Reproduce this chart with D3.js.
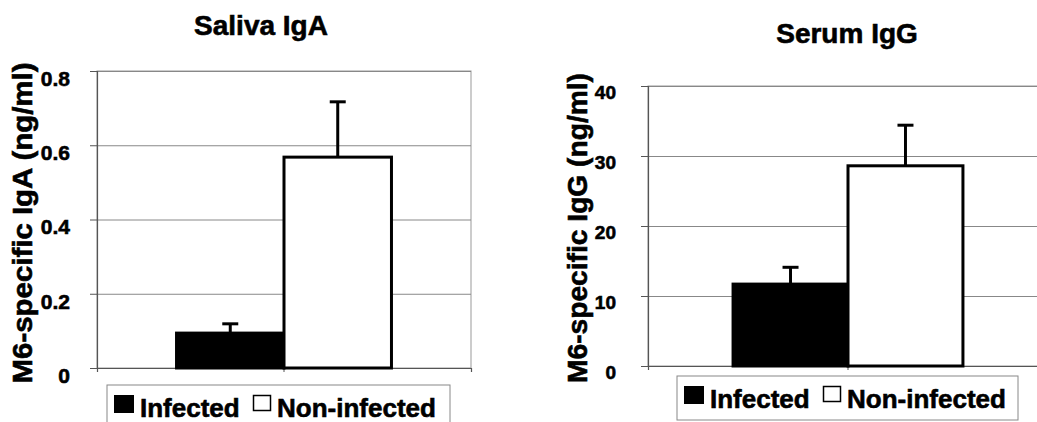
<!DOCTYPE html>
<html>
<head>
<meta charset="utf-8">
<script src="https://cdn.jsdelivr.net/npm/d3@7"></script>
<style>
  body { margin: 0; background: #fff; }
  text { font-family: "Liberation Sans", Arial, sans-serif; font-weight: bold; fill: #000; stroke: #000; stroke-width: 0.6px; }
</style>
</head>
<body>
<script>
var width = 1037,
    height = 422;

// data
var groups = ["Infected", "Non-infected"];
var salivaMeans = [0.094, 0.568];
var salivaErrors = [0.025, 0.149];
var salivaTicks = [0, 0.2, 0.4, 0.6, 0.8];
var serumMeans = [11.7, 28.6];
var serumErrors = [2.4, 5.8];
var serumTicks = [0, 10, 20, 30, 40];

var fills = ["#000", "#fff"];

var svg = d3.select("body").append("svg")
    .attr("width", width)
    .attr("height", height);

function drawChart(opt) {
  var g = svg.append("g");
  var w = opt.right - opt.left,
      h = opt.bottom - opt.top;

  var y = d3.scaleLinear().domain([0, opt.ticks[opt.ticks.length - 1]]).range([opt.bottom, opt.top]);
  var x0 = d3.scaleBand().domain(["1"]).range([opt.left, opt.right]).paddingInner(0).paddingOuter(0.37);
  var x1 = d3.scaleBand().domain(groups).range([0, x0.bandwidth()]);

  // plot frame
  g.append("rect")
    .attr("x", opt.left).attr("y", opt.top)
    .attr("width", w).attr("height", h)
    .attr("fill", "none").attr("stroke", "#999").attr("stroke-width", 1);

  // gridlines
  g.append("g")
    .attr("transform", "translate(" + opt.left + ",0)")
    .call(d3.axisLeft(y).tickValues(opt.ticks).tickSize(-w).tickFormat(""))
    .call(function(s) {
      s.select(".domain").remove();
      s.selectAll("line").attr("stroke", "#888").attr("stroke-width", 1);
    });

  // y axis
  g.append("g")
    .attr("transform", "translate(" + opt.left + ",0)")
    .call(d3.axisLeft(y).tickValues(opt.ticks).tickSize(7).tickPadding(opt.pad)
      .tickFormat(function(d) { return String(d); }))
    .call(function(s) {
      s.attr("font-family", "Liberation Sans, Arial, sans-serif");
      s.select(".domain").attr("stroke", "#555").attr("stroke-width", 1.2);
      s.selectAll("line").attr("stroke", "#555");
      s.selectAll("text")
        .style("font-size", opt.tickFont + "px")
        .attr("font-weight", "bold")
        .attr("dy", "0.68em");
    });

  // x axis (single unlabeled category)
  g.append("g")
    .attr("transform", "translate(0," + opt.bottom + ")")
    .call(d3.axisBottom(x0).tickSize(4).tickFormat(""))
    .call(function(s) {
      s.select(".domain").attr("stroke", "#555").attr("stroke-width", 1.2);
      s.selectAll("line").attr("stroke", "#555");
    });

  var bars = g.append("g")
    .selectAll("g")
    .data(groups.map(function(k, i) { return {key: k, mean: opt.means[i], err: opt.errors[i], i: i}; }))
    .enter().append("g")
    .attr("transform", function(d) { return "translate(" + (x0("1") + x1(d.key)) + ",0)"; });

  bars.append("rect")
    .attr("x", 0)
    .attr("y", function(d) { return y(d.mean); })
    .attr("width", x1.bandwidth())
    .attr("height", function(d) { return y(0) - y(d.mean); })
    .attr("fill", function(d) { return fills[d.i]; })
    .attr("stroke", "#000")
    .attr("stroke-width", 3);

  // upper error bars
  bars.append("line")
    .attr("x1", x1.bandwidth() / 2).attr("x2", x1.bandwidth() / 2)
    .attr("y1", function(d) { return y(d.mean); })
    .attr("y2", function(d) { return y(d.mean + d.err); })
    .attr("stroke", "#000").attr("stroke-width", 3);

  bars.append("line")
    .attr("x1", x1.bandwidth() / 2 - 8).attr("x2", x1.bandwidth() / 2 + 8)
    .attr("y1", function(d) { return y(d.mean + d.err); })
    .attr("y2", function(d) { return y(d.mean + d.err); })
    .attr("stroke", "#000").attr("stroke-width", 3);

  // title
  g.append("text")
    .attr("x", opt.titleX).attr("y", opt.titleY)
    .attr("text-anchor", "middle")
    .attr("font-size", 28)
    .text(opt.title);

  // y label
  g.append("text")
    .attr("transform", "translate(" + opt.labelX + "," + opt.labelY + ") rotate(-90)")
    .attr("text-anchor", "middle")
    .attr("font-size", 28)
    .attr("textLength", opt.labelLen)
    .attr("lengthAdjust", "spacingAndGlyphs")
    .text(opt.label);

  // legend
  var lg = g.append("g").attr("transform", "translate(" + opt.legX + "," + opt.legY + ")");
  lg.append("rect")
    .attr("x", 0).attr("y", 0)
    .attr("width", opt.legW).attr("height", opt.legH)
    .attr("fill", "#fff").attr("stroke", "#888").attr("stroke-width", 1);

  lg.append("rect").attr("x", 7).attr("y", 10).attr("width", 20).attr("height", 18).attr("fill", "#000");
  lg.append("text").attr("x", 33).attr("y", 32).attr("font-size", 26).text(groups[0]);
  lg.append("rect").attr("x", 146.5).attr("y", 10.5).attr("width", 17).attr("height", 15)
    .attr("fill", "#fff").attr("stroke", "#000").attr("stroke-width", 1.5);
  lg.append("text").attr("x", 170).attr("y", 32).attr("font-size", 26).text(groups[1]);
}

drawChart({
  left: 97, right: 471, top: 71, bottom: 368,
  means: salivaMeans, errors: salivaErrors, ticks: salivaTicks,
  pad: 20, tickFont: 21,
  title: "Saliva IgA", titleX: 261, titleY: 35,
  label: "M6-specific IgA (ng/ml)", labelX: 32, labelY: 223, labelLen: 321,
  legX: 107, legY: 385, legW: 343, legH: 50
});

drawChart({
  left: 648, right: 1048, top: 86, bottom: 366,
  means: serumMeans, errors: serumErrors, ticks: serumTicks,
  pad: 25, tickFont: 19,
  title: "Serum IgG", titleX: 847, titleY: 43,
  label: "M6-specific IgG (ng/ml)", labelX: 587, labelY: 228, labelLen: 310,
  legX: 677, legY: 376, legW: 341, legH: 44
});
</script>
</body>
</html>
